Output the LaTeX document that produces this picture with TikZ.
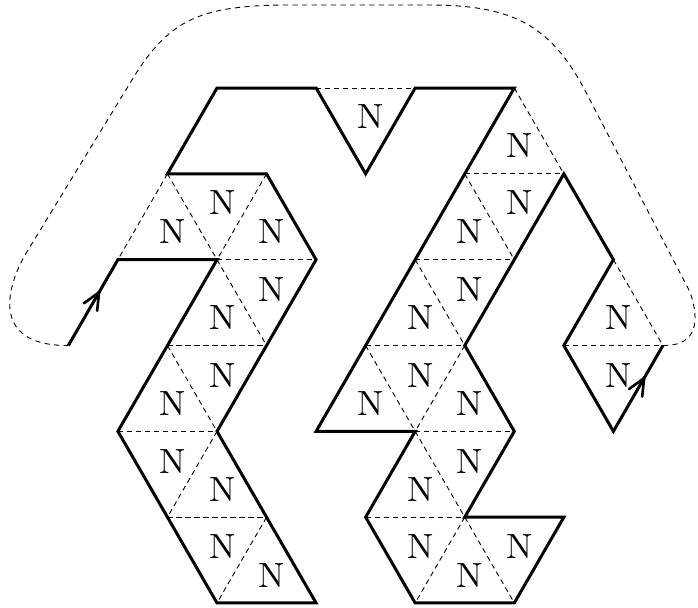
\documentclass[tikz,border=0pt]{standalone}
\usetikzlibrary{decorations.markings}
\begin{document}
\begin{tikzpicture}[x=0.5pt,y=-0.5pt,
  edge/.style={line width=1.5pt, line join=miter},
  lat/.style={line width=0.45pt, dash pattern=on 2.6pt off 1.9pt},
  loopline/.style={line width=0.45pt, dash pattern=on 2.6pt off 2.2pt},
  lab/.style={font=\normalsize, inner sep=0pt},
  dirmark/.style={decorate, decoration={markings,
     mark=at position 0.62 with {\draw[line width=1.3pt, line cap=round]
        (-8.5pt,-3.8pt) -- (0pt,0pt) -- (-8.5pt,3.8pt);}}}
]
\useasboundingbox (0,0) rectangle (698,607);
% lattice points
\foreach \j in {0,...,6}{
  \foreach \i in {0,...,6}{
    \coordinate (v\i-\j) at ({217+99.1*(\i-0.5*\j)},{88+85.83*\j});
  }
}
% interior (dashed) lattice edges
\foreach \a/\b in {v0-1/v0-2, v0-1/v1-2, v1-1/v1-2, v1-2/v2-2, v1-2/v2-3,
                   v1-3/v2-3, v1-3/v2-4, v1-4/v2-4, v2-4/v2-5, v2-5/v3-5,
                   v3-5/v3-6,
                   v1-0/v2-0, v3-0/v4-1, v3-1/v4-1, v3-1/v4-2, v3-2/v4-2,
                   v3-2/v4-3, v3-3/v4-3, v3-3/v4-4, v4-3/v4-4, v4-4/v5-4,
                   v4-4/v5-5, v4-5/v5-5, v5-5/v5-6, v5-5/v6-6,
                   v5-2/v6-3, v5-3/v6-3}{
  \draw[lat] (\a) -- (\b);
}
% dashed outer loop
\draw[loopline] (v6-3) .. controls (690,346) and (703,330) .. (690,292)
  -- (590,100) .. controls (555,30) and (520,5) .. (430,5)
  -- (290,5) .. controls (200,5) and (170,20) .. (135,75)
  -- (25,255) .. controls (0,300) and (0,346) .. (v0-3);
% thick boundary path
\draw[edge] (v0-3) -- (v0-2) -- (v1-2) -- (v1-3) -- (v1-4) -- (v2-5) -- (v3-6)
  -- (v4-6) -- (v3-5) -- (v2-4) -- (v2-3) -- (v2-2) -- (v1-1) -- (v0-1)
  -- (v0-0) -- (v1-0) -- (v2-1) -- (v2-0) -- (v3-0) -- (v3-1) -- (v3-2)
  -- (v3-3) -- (v3-4) -- (v4-4) -- (v4-5) -- (v5-6) -- (v6-6) -- (v6-5)
  -- (v5-5) -- (v5-4) -- (v4-3) -- (v4-2) -- (v4-1) -- (v5-2) -- (v5-3)
  -- (v6-4) -- (v6-3);
% direction arrows
\path[dirmark] (v0-3) -- (v0-2);
\path[dirmark] (v6-4) -- (v6-3);
% labels
\foreach \x/\y [count=\k] in {167/231, 217/202, 266/231, 266/289, 217/317,
    217/375, 167/403, 167/461, 217/489, 217/546, 266/575,
    365/116, 514/145, 514/202, 464/231, 464/289, 415/317, 415/375,
    365/403, 464/403, 464/461, 415/489, 415/546, 464/575, 514/546,
    613/317, 613/375}{
  \node[lab] (n\k) at ({\x+6},{\y+1}) {\scalebox{1.75}{N}};
}
\end{tikzpicture}
\end{document}
